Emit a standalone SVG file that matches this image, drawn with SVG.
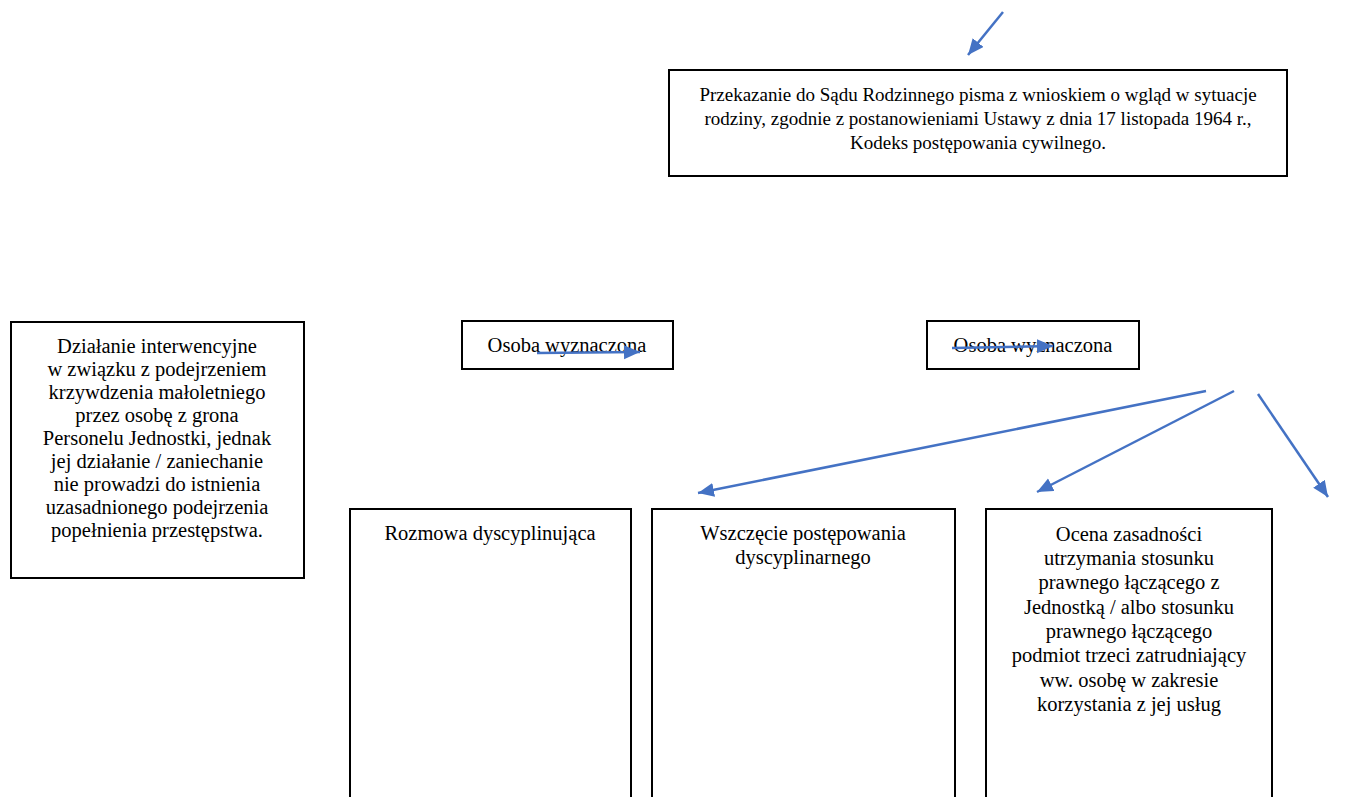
<svg xmlns="http://www.w3.org/2000/svg" width="1359" height="797" viewBox="0 0 1359 797">
<defs>
<marker id="ah" markerUnits="userSpaceOnUse" markerWidth="18" markerHeight="16" refX="16" refY="7" orient="auto">
<path d="M0,0 L16,7 L0,14 Z" fill="#4472C4"/>
</marker>
</defs>
<rect width="1359" height="797" fill="#fff"/>
<g id="n-sad">
<rect x="669" y="70" width="618" height="106" fill="#fff" stroke="#000" stroke-width="2"/>
<text font-family="Liberation Serif" font-size="19" text-anchor="middle" x="978" y="101">Przekazanie do Sądu Rodzinnego pisma z wnioskiem o wgląd w sytuacje</text>
<text font-family="Liberation Serif" font-size="19" text-anchor="middle" x="978" y="125">rodziny, zgodnie z postanowieniami Ustawy z dnia 17 listopada 1964 r.,</text>
<text font-family="Liberation Serif" font-size="19" text-anchor="middle" x="978" y="149">Kodeks postępowania cywilnego.</text>
</g>
<g id="n-dzialanie">
<rect x="11" y="322" width="293" height="256" fill="#fff" stroke="#000" stroke-width="2"/>
<text font-family="Liberation Serif" font-size="20.5" text-anchor="middle" x="157" y="353">Działanie interwencyjne</text>
<text font-family="Liberation Serif" font-size="20.5" text-anchor="middle" x="157" y="376">w związku z podejrzeniem</text>
<text font-family="Liberation Serif" font-size="20.5" text-anchor="middle" x="157" y="399">krzywdzenia małoletniego</text>
<text font-family="Liberation Serif" font-size="20.5" text-anchor="middle" x="157" y="422">przez osobę z grona</text>
<text font-family="Liberation Serif" font-size="20.5" text-anchor="middle" x="157" y="445">Personelu Jednostki, jednak</text>
<text font-family="Liberation Serif" font-size="20.5" text-anchor="middle" x="157" y="468">jej działanie / zaniechanie</text>
<text font-family="Liberation Serif" font-size="20.5" text-anchor="middle" x="157" y="491">nie prowadzi do istnienia</text>
<text font-family="Liberation Serif" font-size="20.5" text-anchor="middle" x="157" y="514">uzasadnionego podejrzenia</text>
<text font-family="Liberation Serif" font-size="20.5" text-anchor="middle" x="157" y="537">popełnienia przestępstwa.</text>
</g>
<g id="n-osoba1">
<rect x="462" y="321" width="211" height="48" fill="#fff" stroke="#000" stroke-width="2"/>
<text font-family="Liberation Serif" font-size="20.5" text-anchor="middle" x="567" y="352">Osoba wyznaczona</text>
</g>
<g id="n-osoba2">
<rect x="927" y="321" width="212" height="48" fill="#fff" stroke="#000" stroke-width="2"/>
<text font-family="Liberation Serif" font-size="20.5" text-anchor="middle" x="1033" y="352">Osoba wyznaczona</text>
</g>
<g id="n-rozmowa">
<rect x="350" y="509" width="281" height="310" fill="#fff" stroke="#000" stroke-width="2"/>
<text font-family="Liberation Serif" font-size="20.5" text-anchor="middle" x="490" y="540">Rozmowa dyscyplinująca</text>
</g>
<g id="n-wszczecie">
<rect x="652" y="509" width="303" height="310" fill="#fff" stroke="#000" stroke-width="2"/>
<text font-family="Liberation Serif" font-size="20.5" text-anchor="middle" x="803" y="540">Wszczęcie postępowania</text>
<text font-family="Liberation Serif" font-size="20.5" text-anchor="middle" x="803" y="564">dyscyplinarnego</text>
</g>
<g id="n-ocena">
<rect x="986" y="509" width="286" height="310" fill="#fff" stroke="#000" stroke-width="2"/>
<text font-family="Liberation Serif" font-size="20.5" text-anchor="middle" x="1129" y="541">Ocena zasadności</text>
<text font-family="Liberation Serif" font-size="20.5" text-anchor="middle" x="1129" y="565">utrzymania stosunku</text>
<text font-family="Liberation Serif" font-size="20.5" text-anchor="middle" x="1129" y="589">prawnego łączącego z</text>
<text font-family="Liberation Serif" font-size="20.5" text-anchor="middle" x="1129" y="614">Jednostką / albo stosunku</text>
<text font-family="Liberation Serif" font-size="20.5" text-anchor="middle" x="1129" y="638">prawnego łączącego</text>
<text font-family="Liberation Serif" font-size="20.5" text-anchor="middle" x="1129" y="662">podmiot trzeci zatrudniający</text>
<text font-family="Liberation Serif" font-size="20.5" text-anchor="middle" x="1129" y="687">ww. osobę w zakresie</text>
<text font-family="Liberation Serif" font-size="20.5" text-anchor="middle" x="1129" y="711">korzystania z jej usług</text>
</g>
<g id="connectors" fill="none" stroke="#4472C4" stroke-width="2.5">
<line x1="1003" y1="12" x2="968" y2="55" marker-end="url(#ah)"/>
<line x1="537" y1="353" x2="640" y2="352" marker-end="url(#ah)"/>
<line x1="952" y1="348" x2="1053" y2="346" marker-end="url(#ah)"/>
<line x1="1206" y1="391" x2="698" y2="493" marker-end="url(#ah)"/>
<line x1="1234" y1="391" x2="1037" y2="492" marker-end="url(#ah)"/>
<line x1="1258" y1="394" x2="1328" y2="497" marker-end="url(#ah)"/>
</g>
</svg>
